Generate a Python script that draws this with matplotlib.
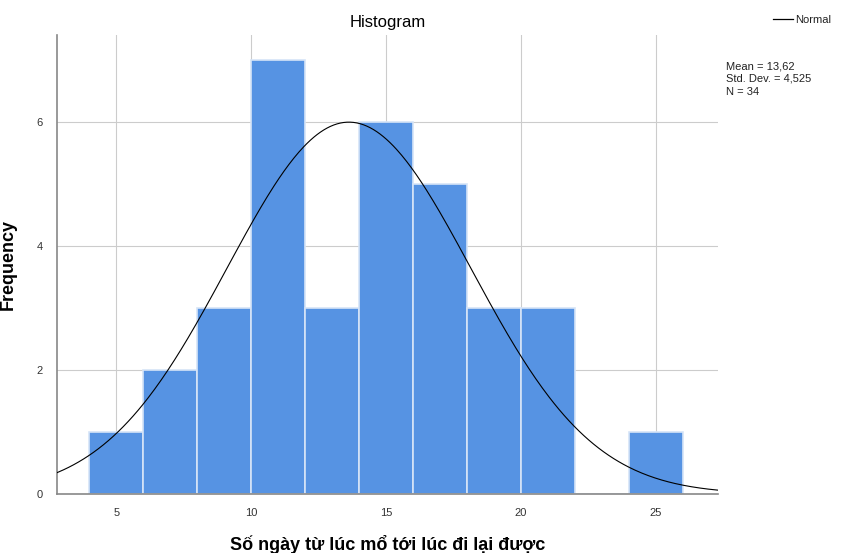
import numpy as np
import matplotlib.pyplot as plt

plt.rcParams['font.family'] = ['Liberation Sans', 'DejaVu Sans']

# histogram data
bin_edges = [4, 6, 8, 10, 12, 14, 16, 18, 20, 22, 24]
counts = [1, 2, 3, 7, 3, 6, 5, 3, 3, 0, 1]
bin_width = 2
mean = 13.62
std = 4.525
n = 34
xticks = [5, 10, 15, 20, 25]
yticks = [0, 2, 4, 6]

fig = plt.figure(figsize=(8.61, 5.53), dpi=100)
ax = fig.add_axes([57 / 861, 59 / 553, 661 / 861, 459 / 553])

ax.bar(bin_edges, counts, width=bin_width, align='edge', color='#5693e3',
       edgecolor='#d6e4f7', linewidth=1.2, zorder=2)

xs = np.linspace(2.8, 27.3, 400)
pdf = n * bin_width / (std * np.sqrt(2 * np.pi)) * np.exp(-0.5 * ((xs - mean) / std) ** 2)
ax.plot(xs, pdf, color='black', linewidth=0.8, zorder=3)

ax.set_xlim(2.8, 27.3)
ax.set_ylim(0, 7.4)
ax.set_xticks(xticks)
ax.set_yticks(yticks)
ax.grid(True, color='#cccccc', linewidth=0.8, zorder=0)
ax.set_axisbelow(True)
for s in ['top', 'right']:
    ax.spines[s].set_visible(False)
for s in ['left', 'bottom']:
    ax.spines[s].set_color('#888888')
    ax.spines[s].set_linewidth(1.2)
ax.tick_params(length=0, labelsize=8, colors='#333333', pad=10)

ax.set_xlabel('Số ngày từ lúc mổ tới lúc đi lại được', fontsize=13, fontweight='bold', labelpad=12)
ax.set_ylabel('Frequency', fontsize=13, fontweight='bold', labelpad=14)
ax.yaxis.set_label_coords(-40 / 661, 0.5)
ax.set_title('Histogram', fontsize=12, pad=6)

fig.text(795 / 861, 1 - 20 / 553, 'Normal', fontsize=8, va='center', ha='left', color='#222222')
fig.add_artist(plt.Line2D([773 / 861, 793 / 861], [1 - 19 / 553] * 2, color='black', linewidth=0.9))
fig.text(726 / 861, 1 - 79 / 553,
         f'Mean = 13,62\nStd. Dev. = 4,525\nN = {n}',
         fontsize=8, va='center', ha='left', color='#222222', linespacing=1.35)

fig.savefig('out.png', dpi=100)
